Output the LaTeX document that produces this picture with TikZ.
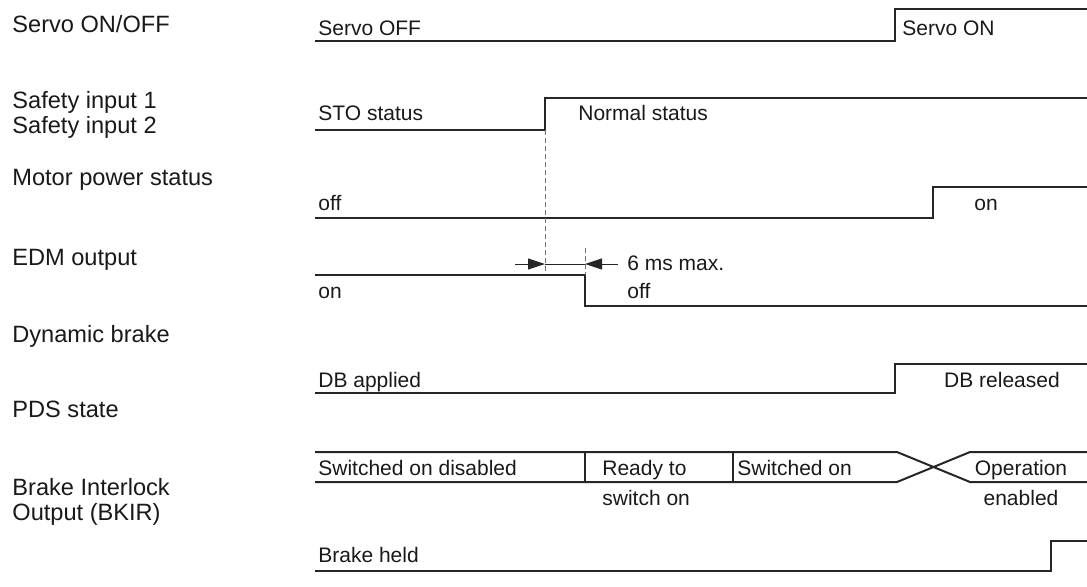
\documentclass[tikz,border=0pt]{standalone}
\usepackage{fontspec}
\setmainfont{Liberation Sans}
\usepackage{tikz}
\usetikzlibrary{arrows.meta}

\begin{document}
\begin{tikzpicture}[x=0.5pt, y=-0.5pt, >={Triangle[length=8.5pt,width=5.5pt]}, every node/.style={inner sep=0pt, text=black!90}]
\tikzstyle{rowlabel}=[anchor=base west, font=\fontsize{11.8}{13}\selectfont]
\tikzstyle{sigtext}=[anchor=base west, font=\fontsize{10.5}{12}\selectfont]
\tikzstyle{wave}=[line width=1pt, draw=black!85]
\tikzstyle{guide}=[line width=0.5pt, draw=black!55, dash pattern=on 2.5pt off 1.5pt]
\tikzstyle{dim}=[line width=0.5pt, draw=black!85]
\useasboundingbox (0,0) rectangle (1087,586);

\node[rowlabel] (servo) at (12,32) {Servo ON/OFF};
\node[rowlabel] (safe1) at (12,108) {Safety input 1};
\node[rowlabel] (safe2) at (12,133) {Safety input 2};
\node[rowlabel] (motor) at (12,185) {Motor power status};
\node[rowlabel] (edm) at (12,265) {EDM output};
\node[rowlabel] (db) at (12,342) {Dynamic brake};
\node[rowlabel] (pds) at (12,417) {PDS state};
\node[rowlabel] (bkir1) at (12,495) {Brake Interlock};
\node[rowlabel] (bkir2) at (12,520) {Output (BKIR)};

\draw[wave] (315,41) -- (895,41) -- (895,9) -- (1087,9);
\node[sigtext] (srvoff) at (318,35) {Servo OFF};
\node[sigtext] (srvon) at (902,35) {Servo ON};

\draw[wave] (315,130) -- (545,130) -- (545,98) -- (1087,98);
\node[sigtext] (sto) at (318,120) {STO status};
\node[sigtext] (normal) at (578,120) {Normal status};

\draw[wave] (315,218) -- (933,218) -- (933,187) -- (1087,187);
\node[sigtext] (mpoff) at (318,210) {off};
\node[sigtext, anchor=base] (mpon) at (986,210) {on};

\draw[wave] (315,275) -- (585,275) -- (585,306) -- (1087,306);
\node[sigtext] (edmon) at (318,298) {on};
\node[sigtext] (edmoff) at (627,298) {off};
\node[sigtext] (ms) at (627,270) {6 ms max.};

\coordinate (stoedge) at (545,130);
\coordinate (edmedge) at (585,275);
\draw[guide] (stoedge) -- (545,273);
\draw[guide] (585,248) -- (edmedge);
\coordinate (t0) at (545,264);
\coordinate (t1) at (585,264);
\coordinate (dimL) at (515,264);
\coordinate (dimR) at (618,264);
\draw[dim,->] (dimL) -- (t0);
\draw[dim] (t0) -- (t1);
\draw[dim,->] (dimR) -- (t1);

\draw[wave] (315,393) -- (895,393) -- (895,364) -- (1087,364);
\node[sigtext] (dbon) at (318,387) {DB applied};
\node[sigtext, anchor=base] (dboff) at (1002,387) {DB released};

\draw[wave] (315,452) -- (897,452) -- (970,482) -- (1087,482);
\draw[wave] (315,482) -- (897,482) -- (970,452) -- (1087,452);
\draw[wave] (585,452) -- (585,482);
\draw[wave] (733,452) -- (733,482);
\node[sigtext] (sod) at (318,475) {Switched on disabled};
\node[sigtext] (rts1) at (602,475) {Ready to};
\node[sigtext] (rts2) at (602,505) {switch on};
\node[sigtext] (swon) at (737,475) {Switched on};
\node[sigtext, anchor=base] (open1) at (1021,475) {Operation};
\node[sigtext, anchor=base] (open2) at (1021,505) {enabled};

\draw[wave] (315,571) -- (1051,571) -- (1051,541) -- (1087,541);
\node[sigtext] (held) at (318,562) {Brake held};
\end{tikzpicture}
\end{document}
